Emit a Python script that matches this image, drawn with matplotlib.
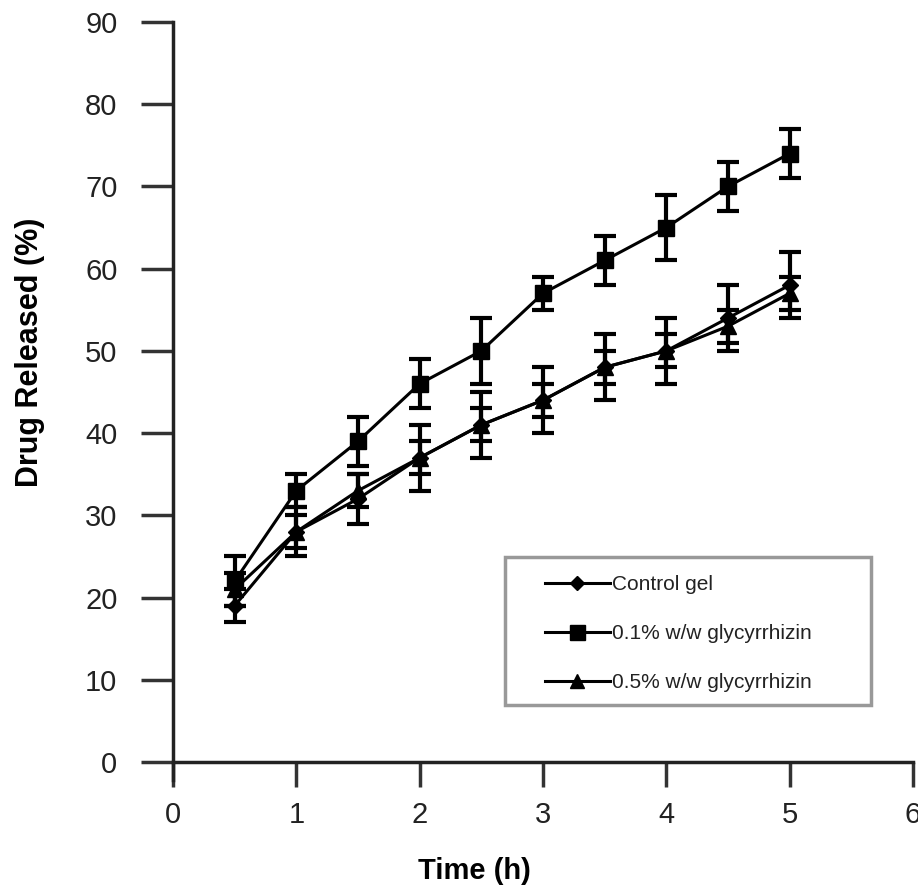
import matplotlib
matplotlib.use("Agg")
import matplotlib.pyplot as plt
from matplotlib.lines import Line2D
from matplotlib.patches import Rectangle

time_h = [0.5, 1, 1.5, 2, 2.5, 3, 3.5, 4, 4.5, 5]
control = [19, 28, 32, 37, 41, 44, 48, 50, 54, 58]
control_err = [2, 3, 3, 4, 4, 4, 4, 4, 4, 4]
glyc01 = [22, 33, 39, 46, 50, 57, 61, 65, 70, 74]
glyc01_err = [3, 2, 3, 3, 4, 2, 3, 4, 3, 3]
glyc05 = [21, 28, 33, 37, 41, 44, 48, 50, 53, 57]
glyc05_err = [2, 2, 2, 2, 2, 2, 2, 2, 2, 2]
labels = ["Control gel", "0.1% w/w glycyrrhizin", "0.5% w/w glycyrrhizin"]
markers = ['D', 's', '^']
msizes = [8, 12, 11]
xticks = [0, 1, 2, 3, 4, 5, 6]
yticks = [0, 10, 20, 30, 40, 50, 60, 70, 80, 90]

plt.rcParams['font.family'] = ['Liberation Sans', 'DejaVu Sans']
fig = plt.figure(figsize=(9.18, 8.88), dpi=100)
ax = fig.add_axes([173/918, 1-762/888, 740/918, 740/888])

common = dict(color='black', lw=2.2, elinewidth=3, capsize=8, capthick=3, clip_on=False)
series = [(control, control_err), (glyc01, glyc01_err), (glyc05, glyc05_err)]
for (vals, errs), m, ms, lab in zip(series, markers, msizes, labels):
    ax.errorbar(time_h, vals, yerr=errs, marker=m, ms=ms, label=lab, **common)

ax.set_xlim(0, 6)
ax.set_ylim(0, 90)
ax.set_xticks(xticks)
ax.set_yticks(yticks)
for s in ['top', 'right']:
    ax.spines[s].set_visible(False)
for s in ['left', 'bottom']:
    ax.spines[s].set_linewidth(2.5)
    ax.spines[s].set_color('#222222')
ax.spines['left'].set_bounds(-2.2, 90)
ax.tick_params(axis='both', direction='out', width=2.5, labelsize=21,
               color='#333333', labelcolor='#222222')
ax.tick_params(axis='y', length=23, pad=17)
ax.tick_params(axis='x', length=18, pad=10)
ax.set_xlabel("Time (h)", fontsize=21, fontweight='bold')
ax.set_ylabel("Drug Released (%)", fontsize=22, fontweight='bold')
ax.xaxis.set_label_coords(0.408, -0.129)
ax.yaxis.set_label_coords(-0.173, 0.554)

# legend frame
frame = Rectangle((0.4486, 0.077), 0.4946, 0.200, transform=ax.transAxes,
                  facecolor='white', edgecolor='#999999', lw=2.5, zorder=4)
ax.add_patch(frame)
handles = [Line2D([], [], color='black', lw=2.2, marker=m, ms=ms * 0.9)
           for m, ms in zip(markers, msizes)]
leg = ax.legend(handles, labels, loc='upper left', bbox_to_anchor=(0.5027, 0.2525),
                fontsize=15, frameon=False, handlelength=3.1, labelspacing=1.44,
                borderpad=0, handletextpad=0.1, borderaxespad=0, numpoints=1)
leg.set_zorder(5)
for t in leg.get_texts():
    t.set_color('#222222')

fig.savefig("out.png", dpi=100)
